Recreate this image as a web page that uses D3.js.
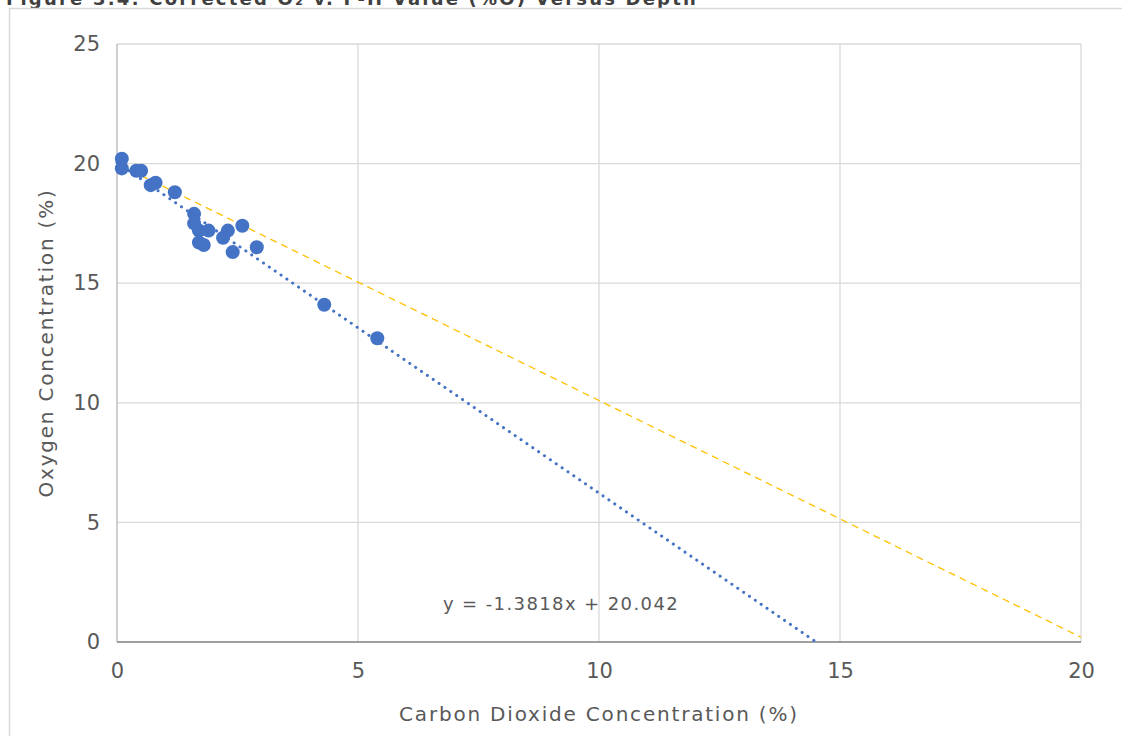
<!DOCTYPE html>
<html><head><meta charset="utf-8">
<script src="https://cdn.jsdelivr.net/npm/d3@7"></script>
<style>body{margin:0;background:#fff}svg{display:block}</style>
</head><body>
<script>
const co2 = [0.1,0.1,0.4,0.5,0.7,0.8,1.2,1.6,1.6,1.7,1.9,1.7,1.8,2.2,2.3,2.4,2.6,2.9,4.3,5.4];
const o2  = [20.2,19.8,19.7,19.7,19.1,19.2,18.8,17.9,17.5,17.2,17.2,16.7,16.6,16.9,17.2,16.3,17.4,16.5,14.1,12.7];
const trendSlope = -1.3818, trendIntercept = 20.042;
const refX = [0.5, 20];
const refY = [19.5, 0.2];
const xTicks = [0,5,10,15,20];
const yTicks = [0,5,10,15,20,25];
const titleText = "Figure 3.4: Corrected O\u2082 v. F-H Value (%O) Versus Depth";
const xTitle = "Carbon Dioxide Concentration (%)";
const yTitle = "Oxygen Concentration (%)";
const eqText = "y = -1.3818x + 20.042";

const W=1122,H=736;
const svg=d3.select("body").append("svg").attr("width",W).attr("height",H);
const font="'DejaVu Sans',sans-serif";
// title (cut off at top, as in the reference)
svg.append("text").attr("x",6).attr("y",5).attr("font-family",font).attr("letter-spacing",2.2)
 .attr("font-weight","bold").attr("font-size",18).attr("fill","#404040").text(titleText);
// chart border
svg.append("path").attr("d","M9.5,"+H+"V8.5H"+W).attr("fill","none").attr("stroke","#d9d9d9").attr("stroke-width",1.5);

const x=d3.scaleLinear().domain([0,20]).range([117,1081]);
const y=d3.scaleLinear().domain([0,25]).range([642,44]);

const g=svg.append("g");
g.selectAll(".hg").data(yTicks.filter(d=>d>0)).enter().append("line")
 .attr("x1",x(0)).attr("x2",x(20)).attr("y1",d=>y(d)).attr("y2",d=>y(d)).attr("stroke","#d9d9d9").attr("stroke-width",1.3);
g.selectAll(".vg").data(xTicks.filter(d=>d>0)).enter().append("line")
 .attr("x1",d=>x(d)).attr("x2",d=>x(d)).attr("y1",y(0)).attr("y2",y(25)).attr("stroke","#d9d9d9").attr("stroke-width",1.3);
g.append("line").attr("x1",x(0)).attr("x2",x(0)).attr("y1",y(0)).attr("y2",y(25)).attr("stroke","#bfbfbf").attr("stroke-width",1.5);
g.append("line").attr("x1",x(0)).attr("x2",x(20)).attr("y1",y(0)).attr("y2",y(0)).attr("stroke","#7f7f7f").attr("stroke-width",1.5);

const yAxis=d3.axisLeft(y).tickValues(yTicks).tickSize(0).tickPadding(17);
const ya=svg.append("g").attr("transform",`translate(${x(0)},0)`).call(yAxis);
ya.select(".domain").remove();
ya.selectAll("text").attr("font-family",font).attr("font-size",21).attr("fill","#595959");
const xAxis=d3.axisBottom(x).tickValues(xTicks).tickSize(0).tickPadding(21);
const xa=svg.append("g").attr("transform",`translate(0,${y(0)})`).call(xAxis);
xa.select(".domain").remove();
xa.selectAll("text").attr("font-family",font).attr("font-size",21).attr("fill","#595959");

svg.append("text").attr("x",599).attr("y",721).attr("text-anchor","middle").attr("font-family",font)
 .attr("font-size",20).attr("letter-spacing",1.8).attr("fill","#595959").text(xTitle);
svg.append("text").attr("transform","translate(53,343) rotate(-90)").attr("text-anchor","middle").attr("font-family",font)
 .attr("font-size",20).attr("letter-spacing",1.8).attr("fill","#595959").text(yTitle);

svg.append("line").attr("x1",x(refX[0])).attr("y1",y(refY[0])).attr("x2",x(refX[1])).attr("y2",y(refY[1]))
 .attr("stroke","#ffc000").attr("stroke-width",1.3).attr("stroke-dasharray","7,5");

const xEnd=-trendIntercept/trendSlope;
svg.append("line").attr("x1",x(0)).attr("y1",y(trendIntercept)).attr("x2",x(xEnd)).attr("y2",y(0))
 .attr("stroke","#4472c4").attr("stroke-width",3).attr("stroke-linecap","round").attr("stroke-dasharray","0.1,7");

svg.selectAll(".pt").data(co2.map((d,i)=>[d,o2[i]])).enter().append("circle")
 .attr("cx",d=>x(d[0])).attr("cy",d=>y(d[1])).attr("r",7).attr("fill","#4472c4");

svg.append("text").attr("x",561).attr("y",610).attr("text-anchor","middle").attr("font-family",font)
 .attr("font-size",18).attr("letter-spacing",1.4).attr("fill","#595959").text(eqText);
</script>
</body></html>
